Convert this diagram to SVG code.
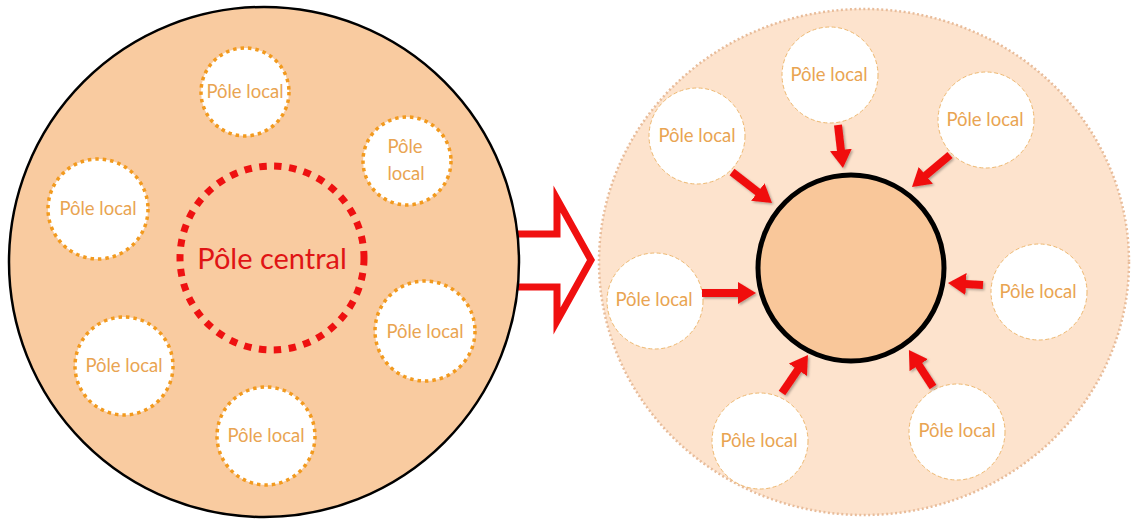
<svg xmlns="http://www.w3.org/2000/svg" width="1133" height="520" viewBox="0 0 1133 520">
  <style>
    .lbl { font-family: Lato, "Open Sans", "Liberation Sans", sans-serif; font-size: 18.5px; fill: #E9A452; text-anchor: middle; }
    .pole-old { fill: #FFFFFF; stroke: #F29A1E; stroke-width: 3.5; stroke-dasharray: 3.5 4; }
    .pole-new { fill: #FFFFFF; stroke: #EDB870; stroke-width: 1; stroke-dasharray: 4 2.5; }
    .flow { stroke: #F01010; stroke-width: 8; fill: none; marker-end: url(#head); }
  </style>
  <defs>
    <marker id="head" markerUnits="userSpaceOnUse" markerWidth="19" markerHeight="22" refX="1" refY="11" orient="auto">
      <path d="M0,0 L18,11 L0,22 z" fill="#F01010"/>
    </marker>
    <filter id="shade" x="-10%" y="-10%" width="120%" height="120%">
      <feDropShadow dx="1.5" dy="1.5" stdDeviation="1" flood-color="#000000" flood-opacity="0.3"/>
    </filter>
  </defs>

  <!-- transition arrow between the two schemes -->
  <g id="transition">
    <path d="M505,234 L557,234 L557,199 L591,260 L557,321 L557,287 L505,287 Z" fill="#FFFFFF" stroke="#F01010" stroke-width="7" stroke-linejoin="miter"/>
  </g>

  <!-- before: one territory with a central pole and scattered local poles -->
  <g id="territory-before">
    <circle cx="264" cy="262" r="255" fill="#F9CBA0" stroke="#000000" stroke-width="2.5"/>
  </g>
  <g id="pole-central">
    <circle cx="272" cy="258" r="92" fill="none" stroke="#EE1111" stroke-width="7" stroke-dasharray="7.5 7.5"/>
    <text x="272" y="269" font-family="Lato, 'Open Sans', 'Liberation Sans', sans-serif" font-size="29" fill="#E01515" text-anchor="middle">Pôle central</text>
  </g>
  <g id="local-1">
    <circle class="pole-old" cx="245" cy="92" r="44"/>
    <text class="lbl" x="245" y="98">Pôle local</text>
  </g>
  <g id="local-2">
    <circle class="pole-old" cx="407" cy="161" r="44"/>
    <text class="lbl" x="405" y="153">Pôle</text>
    <text class="lbl" x="406" y="180">local</text>
  </g>
  <g id="local-3">
    <circle class="pole-old" cx="98" cy="209" r="50"/>
    <text class="lbl" x="98" y="215">Pôle local</text>
  </g>
  <g id="local-4">
    <circle class="pole-old" cx="425" cy="331" r="50"/>
    <text class="lbl" x="425" y="338">Pôle local</text>
  </g>
  <g id="local-5">
    <circle class="pole-old" cx="124" cy="366" r="49"/>
    <text class="lbl" x="124" y="372">Pôle local</text>
  </g>
  <g id="local-6">
    <circle class="pole-old" cx="266" cy="436" r="49"/>
    <text class="lbl" x="266" y="442">Pôle local</text>
  </g>

  <!-- after: local poles converging on a single centre -->
  <g id="territory-after">
    <ellipse cx="864" cy="262" rx="265" ry="253" fill="#FDE3CD" stroke="#E8BC9A" stroke-width="2.5" stroke-dasharray="2 2.5"/>
  </g>
  <g id="centre">
    <circle cx="851" cy="268" r="93" fill="#F9C79A" stroke="#000000" stroke-width="5"/>
  </g>
  <g id="node-a">
    <circle class="pole-new" cx="830" cy="75" r="48"/>
    <text class="lbl" x="829" y="81">Pôle local</text>
  </g>
  <g id="node-b">
    <circle class="pole-new" cx="697" cy="136" r="48"/>
    <text class="lbl" x="697" y="142">Pôle local</text>
  </g>
  <g id="node-c">
    <circle class="pole-new" cx="986" cy="120" r="48"/>
    <text class="lbl" x="985" y="126">Pôle local</text>
  </g>
  <g id="node-d">
    <circle class="pole-new" cx="655" cy="301" r="48"/>
    <text class="lbl" x="654" y="306">Pôle local</text>
  </g>
  <g id="node-e">
    <circle class="pole-new" cx="1039" cy="292" r="48"/>
    <text class="lbl" x="1038" y="298">Pôle local</text>
  </g>
  <g id="node-f">
    <circle class="pole-new" cx="760" cy="441" r="48"/>
    <text class="lbl" x="759" y="447">Pôle local</text>
  </g>
  <g id="node-g">
    <circle class="pole-new" cx="957" cy="432" r="48"/>
    <text class="lbl" x="957" y="437">Pôle local</text>
  </g>

  <g id="connectors" filter="url(#shade)">
    <line class="flow" x1="838" y1="125" x2="841" y2="151"/>
    <line class="flow" x1="732" y1="172" x2="758.6" y2="192.6"/>
    <line class="flow" x1="950" y1="155" x2="925" y2="176"/>
    <line class="flow" x1="702" y1="293" x2="739" y2="293"/>
    <line class="flow" x1="983" y1="285" x2="965" y2="284"/>
    <line class="flow" x1="782" y1="393" x2="798.4" y2="369"/>
    <line class="flow" x1="933" y1="387" x2="918.2" y2="364.3"/>
  </g>
</svg>
